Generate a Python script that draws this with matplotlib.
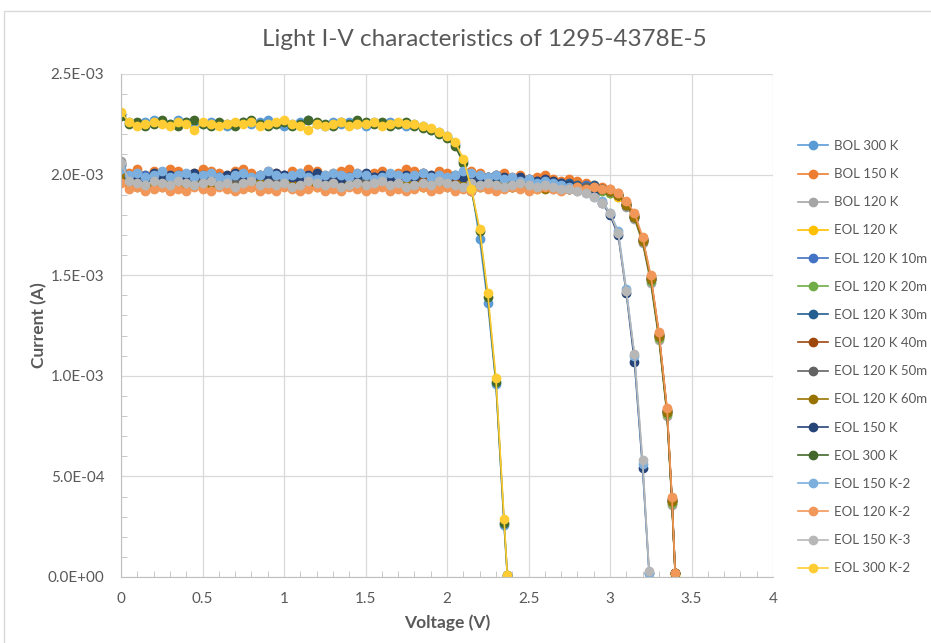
import matplotlib
matplotlib.use("Agg")
import matplotlib.pyplot as plt
from matplotlib.ticker import MultipleLocator, FuncFormatter
from matplotlib.patches import Rectangle

# Voltage sweeps (V) for the three groups of curves
volt_a = [0.00, 0.05, 0.10, 0.15, 0.20, 0.25, 0.30, 0.35, 0.40, 0.45,
          0.50, 0.55, 0.60, 0.65, 0.70, 0.75, 0.80, 0.85, 0.90, 0.95,
          1.00, 1.05, 1.10, 1.15, 1.20, 1.25, 1.30, 1.35, 1.40, 1.45,
          1.50, 1.55, 1.60, 1.65, 1.70, 1.75, 1.80, 1.85, 1.90, 1.95,
          2.00, 2.05, 2.10, 2.15, 2.20, 2.25, 2.30, 2.35, 2.37]
volt_b = [0.00, 0.05, 0.10, 0.15, 0.20, 0.25, 0.30, 0.35, 0.40, 0.45,
          0.50, 0.55, 0.60, 0.65, 0.70, 0.75, 0.80, 0.85, 0.90, 0.95,
          1.00, 1.05, 1.10, 1.15, 1.20, 1.25, 1.30, 1.35, 1.40, 1.45,
          1.50, 1.55, 1.60, 1.65, 1.70, 1.75, 1.80, 1.85, 1.90, 1.95,
          2.00, 2.05, 2.10, 2.15, 2.20, 2.25, 2.30, 2.35, 2.40, 2.45,
          2.50, 2.55, 2.60, 2.65, 2.70, 2.75, 2.80, 2.85, 2.90, 2.95,
          3.00, 3.05, 3.10, 3.15, 3.20, 3.24]
volt_c = [0.00, 0.05, 0.10, 0.15, 0.20, 0.25, 0.30, 0.35, 0.40, 0.45,
          0.50, 0.55, 0.60, 0.65, 0.70, 0.75, 0.80, 0.85, 0.90, 0.95,
          1.00, 1.05, 1.10, 1.15, 1.20, 1.25, 1.30, 1.35, 1.40, 1.45,
          1.50, 1.55, 1.60, 1.65, 1.70, 1.75, 1.80, 1.85, 1.90, 1.95,
          2.00, 2.05, 2.10, 2.15, 2.20, 2.25, 2.30, 2.35, 2.40, 2.45,
          2.50, 2.55, 2.60, 2.65, 2.70, 2.75, 2.80, 2.85, 2.90, 2.95,
          3.00, 3.05, 3.10, 3.15, 3.20, 3.25, 3.30, 3.35, 3.38, 3.40]

# Currents in units of 1E-05 A
bol_300 = [230, 226, 225, 226, 227, 226, 225, 227, 226, 224,
           225, 226, 225, 224, 225, 226, 225, 226, 227, 225,
           224, 225, 226, 227, 225, 224, 226, 225, 226, 225,
           224, 226, 225, 226, 225, 224,
           225, 224, 222, 221, 219, 215, 207, 194, 168, 136, 96, 26, 1]
bol_150 = [203, 201, 203, 200, 202, 201, 203, 202, 200, 201,
           203, 202, 201, 200, 202, 203, 201, 200, 202, 201,
           200, 202, 201, 203, 202, 200, 201, 202, 203, 201,
           200, 201, 202, 200, 201, 203, 202, 201, 200, 202,
           201, 199, 200, 202, 201, 199, 200, 201, 199, 200,
           198, 199, 200, 198, 197, 198, 197, 196, 195, 194,
           193, 191, 186, 180, 168, 149, 121, 83, 39, 2]
bol_120 = [207, 197, 195, 196, 194, 196, 195, 197, 195, 196,
           194, 195, 196, 197, 195, 194, 196, 195, 197, 196,
           195, 194, 196, 195, 194, 196, 197, 195, 196, 194,
           195, 196, 195, 194, 196, 195, 197, 196, 195, 194,
           195, 196, 194, 195, 196, 195, 194, 195, 196, 195,
           194, 195, 194, 193, 194, 193, 192, 193, 192, 193,
           191, 189, 184, 178, 166, 146, 118, 80, 36, 2]
eol_120 = [198, 195, 196, 194, 195, 196, 194, 195, 196, 195,
           194, 196, 195, 194, 195, 196, 194, 195, 196, 194,
           195, 196, 194, 195, 194, 196, 195, 194, 196, 195,
           194, 195, 196, 195, 194, 195, 196, 194, 195, 196,
           195, 194, 196, 195, 194, 195, 196, 195, 194, 195,
           194, 193, 194, 195, 193, 194, 193, 192, 193, 192,
           191, 189, 185, 179, 167, 148, 119, 81, 37, 1]
eol_120_10m = [202, 199, 198, 200, 197, 198, 199, 198, 200, 199,
               198, 197, 199, 198, 200, 199, 198, 197, 199, 198,
               200, 198, 199, 197, 198, 199, 200, 198, 197, 199,
               198, 199, 198, 200, 199, 198, 197, 199, 198, 199,
               198, 197, 198, 199, 197, 198, 197, 198, 196, 197,
               196, 197, 196, 195, 196, 195, 194, 195, 194, 193,
               192, 190, 185, 179, 167, 148, 120, 82, 38, 2]
eol_120_20m = [199, 196, 195, 197, 196, 195, 196, 197, 195, 196,
               195, 196, 197, 195, 196, 195, 197, 196, 195, 196,
               197, 195, 196, 195, 196, 197, 195, 196, 195, 197,
               196, 195, 196, 197, 195, 196, 195, 196, 197, 195,
               196, 195, 196, 195, 194, 196, 195, 194, 195, 194,
               195, 194, 195, 194, 193, 194, 193, 194, 193, 192,
               191, 190, 185, 179, 167, 147, 119, 81, 37, 2]
eol_120_30m = [201, 198, 199, 198, 197, 199, 198, 200, 198, 197,
               199, 198, 197, 199, 198, 200, 198, 199, 197, 198,
               199, 198, 200, 197, 198, 199, 198, 197, 199, 198,
               200, 199, 198, 197, 199, 198, 197, 199, 198, 197,
               198, 199, 197, 198, 197, 199, 198, 197, 198, 196,
               197, 196, 197, 196, 195, 196, 195, 194, 195, 193,
               192, 190, 185, 179, 168, 148, 120, 82, 38, 2]
eol_120_40m = [198, 196, 197, 195, 196, 197, 195, 196, 195, 197,
               196, 195, 196, 197, 195, 196, 197, 195, 196, 195,
               196, 197, 195, 196, 197, 195, 196, 195, 197, 196,
               195, 196, 197, 195, 196, 195, 196, 197, 195, 196,
               195, 196, 197, 195, 196, 195, 194, 195, 196, 195,
               194, 195, 194, 195, 194, 193, 194, 193, 194, 193,
               192, 190, 186, 180, 168, 149, 121, 83, 39, 2]
eol_120_50m = [206, 196, 197, 196, 195, 197, 196, 195, 197, 196,
               195, 197, 196, 195, 196, 197, 195, 196, 195, 197,
               196, 195, 197, 196, 195, 196, 197, 196, 195, 196,
               197, 195, 196, 195, 197, 196, 195, 196, 197, 195,
               196, 195, 196, 197, 195, 196, 195, 196, 194, 195,
               196, 194, 195, 194, 195, 194, 193, 194, 193, 193,
               192, 190, 185, 179, 167, 148, 120, 82, 38, 2]
eol_120_60m = [200, 195, 194, 196, 195, 194, 196, 195, 194, 195,
               196, 194, 195, 196, 194, 195, 194, 196, 195, 194,
               195, 196, 194, 195, 196, 195, 194, 195, 196, 194,
               195, 194, 196, 195, 194, 195, 196, 194, 195, 196,
               194, 195, 196, 194, 195, 194, 195, 196, 194, 195,
               194, 195, 193, 194, 195, 193, 194, 193, 192, 193,
               192, 190, 185, 179, 167, 148, 120, 82, 38, 2]
eol_150 = [205, 199, 200, 198, 201, 199, 200, 198, 199, 201,
           200, 198, 199, 200, 201, 199, 198, 200, 199, 201,
           200, 199, 198, 200, 201, 199, 200, 198, 199, 200,
           201, 199, 200, 198, 199, 200, 199, 201, 200, 199,
           198, 200, 199, 200, 198, 199, 200, 199, 198, 199,
           198, 197, 198, 197, 196, 195,
           193, 192, 190, 186, 180, 170, 141, 107, 54, 2]
eol_300 = [229, 225, 226, 224, 225, 227, 225, 224, 226, 227,
           225, 224, 226, 225, 224, 226, 227, 225, 224, 225,
           226, 224, 225, 227, 226, 225, 224, 226, 225, 227,
           226, 225, 226, 224, 225, 226,
           224, 223, 222, 220, 218, 214, 206, 192, 172, 139, 97, 27, 1]
eol_150_2 = [203, 200, 201, 199, 200, 202, 199, 200, 201, 199,
             200, 201, 199, 198, 200, 201, 199, 200, 202, 200,
             199, 200, 201, 199, 198, 200, 201, 200, 199, 201,
             200, 198, 199, 201, 200, 199, 200, 201, 199, 200,
             199, 200, 202, 201, 200, 199, 200, 198, 199, 197,
             198, 196, 197, 196, 195, 194,
             193, 191, 189, 187, 181, 172, 143, 110, 56, 2]
eol_120_2 = [196, 193, 194, 192, 193, 194, 192, 193, 192, 194,
             193, 192, 194, 193, 192, 193, 194, 192, 193, 192,
             194, 193, 192, 193, 194, 192, 193, 192, 194, 193,
             192, 193, 194, 192, 193, 192, 193, 194, 192, 193,
             194, 192, 193, 192, 194, 193, 192, 193, 194, 193,
             192, 193, 194, 193, 192, 193, 194, 193, 194, 193,
             193, 191, 187, 181, 169, 150, 122, 84, 40, 2]
eol_150_3 = [206, 197, 196, 195, 197, 196, 195, 197, 196, 195,
             196, 197, 195, 196, 194, 196, 197, 195, 196, 195,
             196, 194, 195, 197, 196, 195, 196, 194, 195, 196,
             195, 196, 197, 195, 196, 194, 195, 196, 195, 197,
             196, 195, 194, 196, 195, 196, 195, 194, 195, 196,
             195, 194, 195, 194, 193, 193,
             192, 191, 189, 186, 181, 171, 142, 111, 58, 3]
eol_300_2 = [231, 226, 224, 225, 226, 225, 224, 226, 225, 222,
             226, 225, 224, 225, 226, 225, 226, 224, 225, 226,
             227, 225, 224, 222, 225, 224, 225, 226, 224, 225,
             225, 226, 224, 225, 226, 225,
             225, 224, 223, 221, 219, 216, 208, 193, 173, 141, 99, 29, 1]

series = [
    ("BOL 300 K", volt_a, bol_300, "#5B9BD5"),
    ("BOL 150 K", volt_c, bol_150, "#ED7D31"),
    ("BOL 120 K", volt_c, bol_120, "#A5A5A5"),
    ("EOL 120 K", volt_c, eol_120, "#FFC000"),
    ("EOL 120 K 10m", volt_c, eol_120_10m, "#4472C4"),
    ("EOL 120 K 20m", volt_c, eol_120_20m, "#70AD47"),
    ("EOL 120 K 30m", volt_c, eol_120_30m, "#255E91"),
    ("EOL 120 K 40m", volt_c, eol_120_40m, "#9E480E"),
    ("EOL 120 K 50m", volt_c, eol_120_50m, "#636363"),
    ("EOL 120 K 60m", volt_c, eol_120_60m, "#997300"),
    ("EOL 150 K", volt_b, eol_150, "#264478"),
    ("EOL 300 K", volt_a, eol_300, "#43682B"),
    ("EOL 150 K-2", volt_b, eol_150_2, "#7CAFDD"),
    ("EOL 120 K-2", volt_c, eol_120_2, "#F1975A"),
    ("EOL 150 K-3", volt_b, eol_150_3, "#B7B7B7"),
    ("EOL 300 K-2", volt_a, eol_300_2, "#FFCD33"),
]

plt.rcParams['font.family'] = ['Lato', 'DejaVu Sans']
txt = "#595959"

fig = plt.figure(figsize=(9.31, 6.43), dpi=100)
fig.patches.append(Rectangle((4 / 931, -0.1), 1.2, 1 - 11 / 643 + 0.1,
                             transform=fig.transFigure, fill=False,
                             edgecolor="#D9D9D9", linewidth=1))
ax = fig.add_axes([121 / 931, 1 - 577 / 643, 652 / 931, 503 / 643])

for name, v, cur, col in series:
    ax.plot(v, [c * 1e-5 for c in cur], color=col, marker='o', markersize=6,
            linewidth=1.2, label=name)

ax.set_xlim(0, 4)
ax.set_ylim(0, 2.5e-3)
ax.xaxis.set_major_locator(MultipleLocator(0.5))
ax.xaxis.set_minor_locator(MultipleLocator(0.1))
ax.yaxis.set_major_locator(MultipleLocator(5e-4))
ax.yaxis.set_minor_locator(MultipleLocator(1e-4))
ax.xaxis.set_major_formatter(FuncFormatter(lambda x, p: "%g" % x))
ax.yaxis.set_major_formatter(FuncFormatter(lambda y, p: "%.1E" % y))
ax.tick_params(which='major', length=0, labelsize=11, labelcolor=txt)
ax.tick_params(axis='x', which='major', pad=11)
ax.tick_params(axis='y', which='major', pad=12)
ax.tick_params(which='minor', direction='in', length=4, color="#BFBFBF")
ax.grid(True, which='major', color="#D9D9D9", linewidth=0.9)
ax.set_axisbelow(True)
for s in ['top', 'right']:
    ax.spines[s].set_visible(False)
for s in ['left', 'bottom']:
    ax.spines[s].set_color("#BFBFBF")

ax.set_xlabel("Voltage (V)", fontsize=12.5, color=txt, fontweight='bold', labelpad=6)
ax.set_ylabel("Current (A)", fontsize=12.5, color=txt, fontweight='bold', labelpad=0)
fig.text(484 / 931, 1 - 40 / 643, "Light I-V characteristics of 1295-4378E-5",
         fontsize=17.5, color=txt, ha='center', va='center')

leg = ax.legend(loc='center left', bbox_to_anchor=(1.02, 0.437), frameon=False,
                fontsize=9.5, labelspacing=1.225, handlelength=2.3,
                handletextpad=0.4, labelcolor=txt)

fig.savefig("out.png", dpi=100)
